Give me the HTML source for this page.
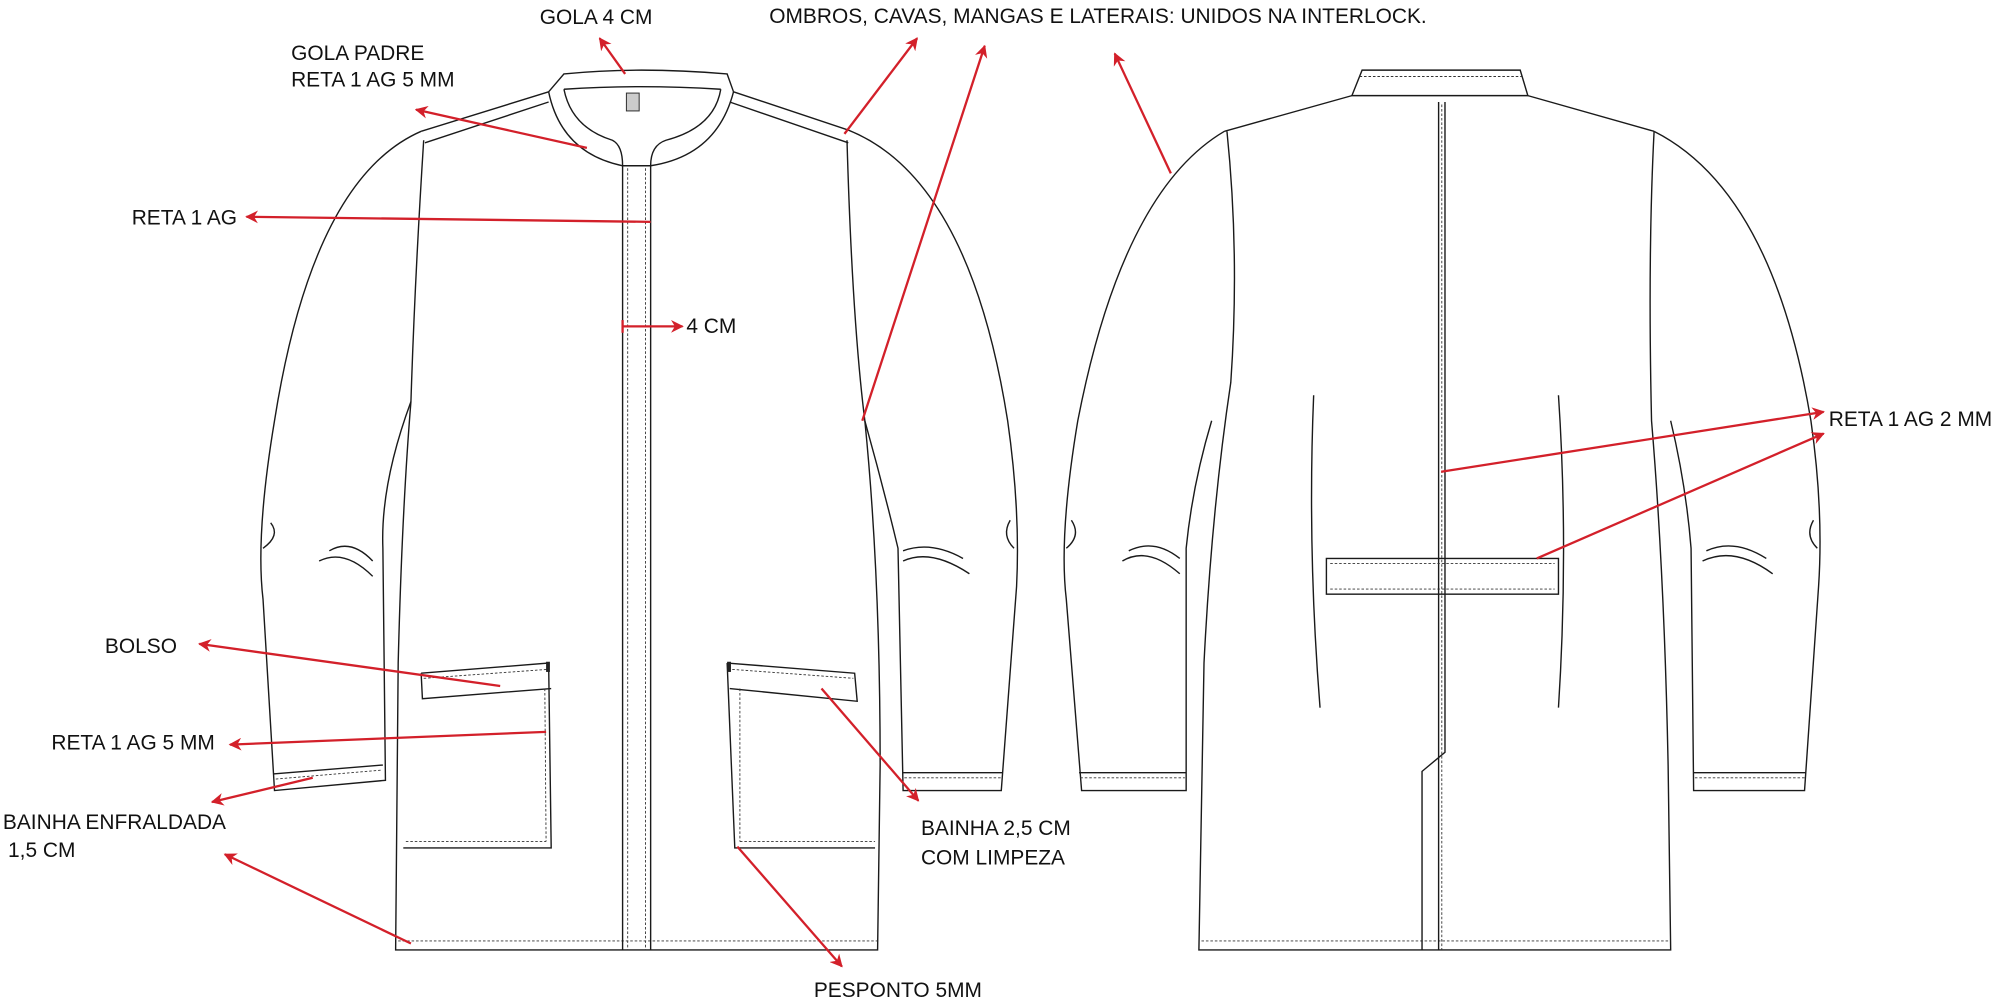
<!DOCTYPE html>
<html><head><meta charset="utf-8"><style>
html,body{margin:0;padding:0;background:#fff;width:2000px;height:1006px;overflow:hidden}
svg{display:block}
text{font-family:"Liberation Sans",sans-serif;font-size:16.4px;fill:#111}
.l{fill:none;stroke:#1a1a1a;stroke-width:1.1}
.d{fill:none;stroke:#333;stroke-width:0.7;stroke-dasharray:2 1.5}
.r{stroke:#d3202a;stroke-width:1.8;fill:none}
</style></head><body>
<svg width="2000" height="1006" viewBox="0 0 1568 789" xmlns="http://www.w3.org/2000/svg">
<defs><marker id="a" markerWidth="10" markerHeight="10" refX="9" refY="5" orient="auto" markerUnits="userSpaceOnUse" viewBox="0 0 10 10"><path d="M0,0 L10,5 L0,10 L3,5z" fill="#d3202a"/></marker></defs>

<!-- FRONT -->
<g>
<path class="l" d="M430,72 L442,58 Q500,52 570,58 L575,72"/>
<path class="l" d="M442,70 Q500,66 565,70"/>
<path class="l" d="M430,72 Q440,120 488,130 L510,130 Q562,122 575,72"/>
<path class="l" d="M442,70 Q448,100 480,110 Q488,114 488,130"/>
<path class="l" d="M565,70 Q560,100 522,110 Q510,114 510,130"/>
<rect x="491" y="73" width="10" height="14" fill="#ccc" stroke="#333" stroke-width="0.8"/>
<path class="l" d="M430,72 L330,103 M430,80 L333,112"/>
<path class="l" d="M575,72 L665,102 M572,80 L665,112"/>
<path class="l" d="M332,110 Q325,220 322,315 Q315,400 312,520 L310,745 L688,745 L690,600 Q690,450 678,330 Q668,250 664,110"/>
<line class="d" x1="312" y1="738" x2="688" y2="738"/>
<path class="l" d="M488,130 L488,745 M510,130 L510,745"/>
<line class="d" x1="492" y1="132" x2="492" y2="745"/>
<line class="d" x1="506" y1="132" x2="506" y2="745"/>
<path class="l" d="M330,103 Q245,140 215,330 Q200,420 206,470 L215,620 L302,612 L300,430 Q298,380 322,315"/>
<path class="l" d="M214,607 L300,600"/>
<line class="d" x1="216" y1="611" x2="299" y2="604"/>
<path class="l" d="M206,430 Q220,420 212,410 M250,440 Q270,430 292,452 M258,432 Q275,422 292,440"/>
<path class="l" d="M665,102 Q760,140 790,330 Q800,400 797,460 L785,620 L708,620 L704,430 Q692,380 678,330"/>
<path class="l" d="M708,606 L786,606"/>
<line class="d" x1="709" y1="610" x2="785" y2="610"/>
<path class="l" d="M795,430 Q785,420 792,408 M708,440 Q730,430 760,450 M708,432 Q730,424 755,438"/>
<path class="l" d="M330,528 L430,520 L432,665 L316,665 M330,528 L331,548 L432,540"/>
<line class="d" x1="332" y1="532" x2="429" y2="525"/>
<line class="d" x1="427" y1="540" x2="428" y2="660"/>
<line class="d" x1="318" y1="660" x2="428" y2="660"/>
<rect x="428" y="519" width="3" height="8" fill="#222"/>
<path class="l" d="M570,520 L670,528 L672,550 L572,540 M570,520 L576,665 L686,665"/>
<line class="d" x1="574" y1="525" x2="669" y2="532"/>
<line class="d" x1="580" y1="540" x2="580" y2="660"/>
<line class="d" x1="580" y1="660" x2="686" y2="660"/>
<rect x="570" y="519" width="3" height="8" fill="#222"/>
</g>

<!-- BACK -->
<g>
<path class="l" d="M1060,75 L1068,55 L1192,55 L1198,75 Z"/>
<line class="d" x1="1066" y1="60" x2="1194" y2="60"/>
<path class="l" d="M1060,75 L960,103 M1198,75 L1297,103"/>
<path class="l" d="M962,103 Q972,200 965,300 Q950,400 944,520 L940,745 L1310,745 L1308,600 Q1305,450 1295,330 Q1292,200 1297,103"/>
<line class="d" x1="942" y1="738" x2="1309" y2="738"/>
<path class="l" d="M1128,80 L1128,745 M1133,80 L1133,590 L1115,605 L1115,745"/>
<line class="d" x1="1130.5" y1="82" x2="1130.5" y2="745"/>
<path class="l" d="M1030,310 Q1025,430 1035,555 M1222,310 Q1230,430 1222,555"/>
<rect x="1040" y="438" width="182" height="28" class="l"/>
<line class="d" x1="1043" y1="442" x2="1219" y2="442"/>
<line class="d" x1="1043" y1="462" x2="1219" y2="462"/>
<path class="l" d="M960,103 Q880,150 845,330 Q830,420 836,470 L848,620 L930,620 L930,430 Q935,380 950,330"/>
<path class="l" d="M846,606 L930,606"/>
<line class="d" x1="847" y1="610" x2="929" y2="610"/>
<path class="l" d="M836,430 Q848,420 840,408 M880,440 Q900,428 925,450 M885,432 Q905,422 925,438"/>
<path class="l" d="M1297,103 Q1390,150 1420,330 Q1430,400 1426,460 L1415,620 L1328,620 L1326,430 Q1322,380 1310,330"/>
<path class="l" d="M1328,606 L1416,606"/>
<line class="d" x1="1329" y1="610" x2="1415" y2="610"/>
<path class="l" d="M1425,430 Q1415,420 1422,408 M1335,440 Q1360,428 1390,450 M1338,432 Q1360,422 1385,438"/>
</g>

<!-- ARROWS -->
<g class="r">
<line x1="490" y1="58" x2="470" y2="30" marker-end="url(#a)"/>
<line x1="460" y1="116" x2="326" y2="86" marker-end="url(#a)"/>
<line x1="510" y1="174" x2="193" y2="170" marker-end="url(#a)"/>
<line x1="488" y1="251" x2="488" y2="261"/>
<line x1="488" y1="256" x2="535" y2="256" marker-end="url(#a)"/>
<line x1="662" y1="105" x2="719" y2="30" marker-end="url(#a)"/>
<line x1="676" y1="330" x2="772" y2="36" marker-end="url(#a)"/>
<line x1="918" y1="136" x2="874" y2="42" marker-end="url(#a)"/>
<line x1="1130" y1="370" x2="1430" y2="323" marker-end="url(#a)"/>
<line x1="1205" y1="438" x2="1430" y2="340" marker-end="url(#a)"/>
<line x1="392" y1="538" x2="156" y2="505" marker-end="url(#a)"/>
<line x1="428" y1="574" x2="180" y2="584" marker-end="url(#a)"/>
<line x1="245" y1="610" x2="166" y2="629" marker-end="url(#a)"/>
<line x1="322" y1="740" x2="176" y2="670" marker-end="url(#a)"/>
<line x1="644" y1="540" x2="720" y2="628" marker-end="url(#a)"/>
<line x1="578" y1="664" x2="660" y2="758" marker-end="url(#a)"/>
</g>

<!-- LABELS -->
<text x="423" y="19">GOLA 4 CM</text>
<text x="228" y="47">GOLA PADRE</text>
<text x="228" y="68">RETA 1 AG 5 MM</text>
<text x="603" y="18">OMBROS, CAVAS, MANGAS E LATERAIS: UNIDOS NA INTERLOCK.</text>
<text x="103" y="176">RETA 1 AG</text>
<text x="538" y="261">4 CM</text>
<text x="1434" y="334">RETA 1 AG 2 MM</text>
<text x="82" y="512">BOLSO</text>
<text x="40" y="588">RETA 1 AG 5 MM</text>
<text x="2" y="650">BAINHA ENFRALDADA</text>
<text x="6" y="672">1,5 CM</text>
<text x="722" y="655">BAINHA 2,5 CM</text>
<text x="722" y="678">COM LIMPEZA</text>
<text x="638" y="782">PESPONTO 5MM</text>
</svg>
</body></html>
